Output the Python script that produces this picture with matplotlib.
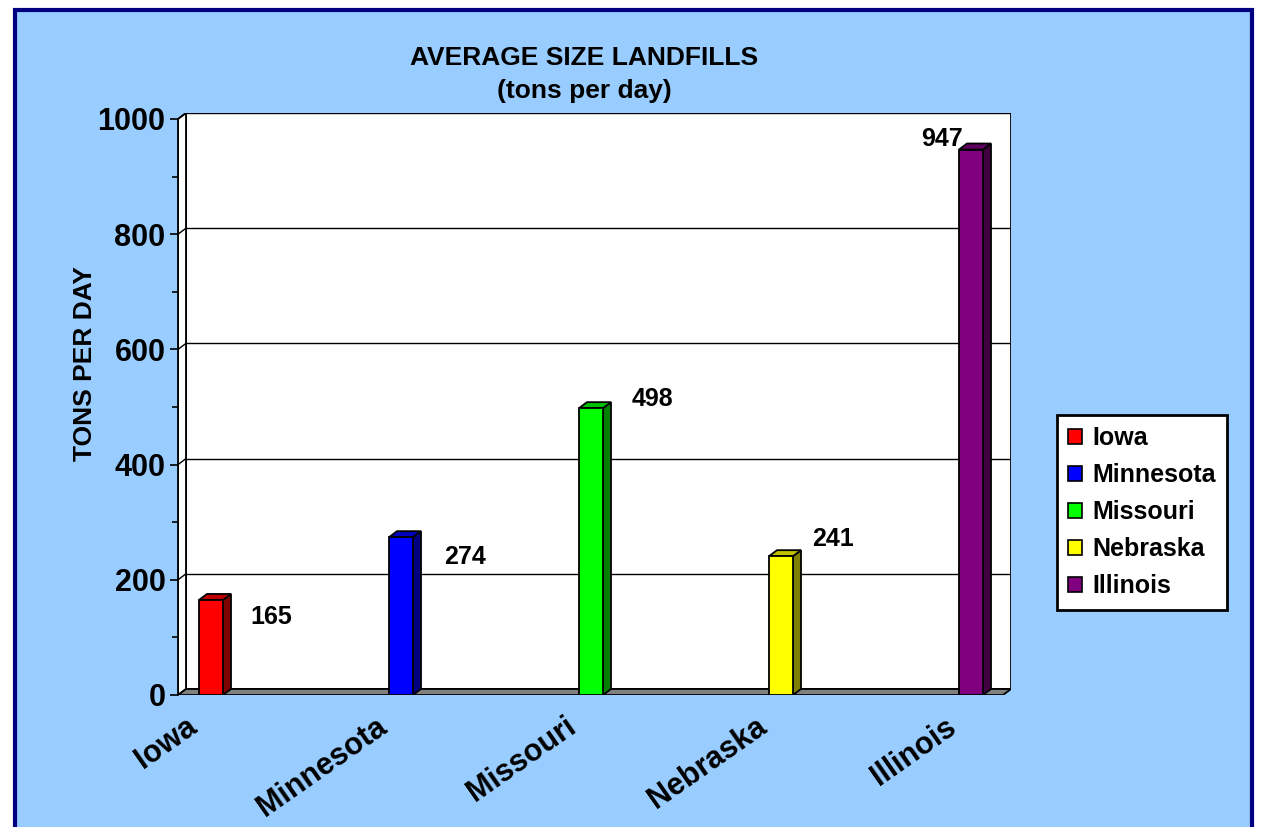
import matplotlib
matplotlib.use("Agg")
import matplotlib.pyplot as plt
from matplotlib.patches import Rectangle, Polygon, Patch
from matplotlib.transforms import ScaledTranslation

plt.rcParams['font.family'] = ['Liberation Sans', 'DejaVu Sans']
plt.rcParams['font.weight'] = 'bold'

# ---- data ----
states = ["Iowa", "Minnesota", "Missouri", "Nebraska", "Illinois"]
tons_per_day = [165, 274, 498, 241, 947]
front_colors = ["#FF0000", "#0000FF", "#00FF00", "#FFFF00", "#800080"]
side_colors = ["#800000", "#000080", "#008000", "#808000", "#400040"]
top_colors = ["#C00000", "#0000C0", "#00C000", "#C0C000", "#600060"]
y_ticks = [0, 200, 400, 600, 800, 1000]
# label offsets from the bar top (pixels)
label_offsets = [(60, -17), (64, -20), (61, 9), (52, 17), (-29, 11)]

W, H = 1262, 827
fig = plt.figure(figsize=(W / 100, H / 100), dpi=100)
fig.patch.set_facecolor("white")

# chart area with navy frame
fig.patches.append(Rectangle((15 / W, -0.05), (1252 - 15) / W, 1.05 - 9.5 / H,
                             transform=fig.transFigure, facecolor="#99CCFF",
                             edgecolor="#000080", linewidth=3.0, zorder=-5))

# axes covers the front plane plus the depth of the walls
px_left, px_right, px_top, px_bottom = 178, 1011, 113, 695
ax = fig.add_axes([px_left / W, 1 - px_bottom / H,
                   (px_right - px_left) / W, (px_bottom - px_top) / H])
ax.patch.set_visible(False)
ax.set_zorder(2)

unit = 190.0                      # pixels per category step
x0 = (178 - 211) / unit           # front-left of floor
x1 = (1011 - 211) / unit          # back-right of wall
dx = 8 / unit                     # depth offset in x
dy = 6 / 0.576                    # depth offset in y (data units)
ymax = 1000
ax.set_xlim(x0, x1)
ax.set_ylim(0, ymax + dy)

lw = 1.3
# back wall
ax.add_patch(Rectangle((x0 + dx, dy), x1 - x0 - dx, ymax, facecolor="white",
                       edgecolor="black", linewidth=lw, zorder=1))
# side wall
ax.add_patch(Polygon([(x0, 0), (x0 + dx, dy), (x0 + dx, ymax + dy), (x0, ymax)],
                     closed=True, facecolor="white", edgecolor="black",
                     linewidth=lw, zorder=1))
# floor
ax.add_patch(Polygon([(x0, 0), (x1 - dx, 0), (x1, dy), (x0 + dx, dy)],
                     closed=True, facecolor="#808080", edgecolor="black",
                     linewidth=lw, zorder=2))
# gridlines on the walls
for v in y_ticks[1:]:
    ax.plot([x0 + dx, x1], [v + dy, v + dy], color="black", linewidth=1.0, zorder=1.5)
    ax.plot([x0, x0 + dx], [v, v + dy], color="black", linewidth=1.0, zorder=1.5)

# bars with side and top faces
bw = 24 / unit
for i, (v, fc, sc, tc) in enumerate(zip(tons_per_day, front_colors, side_colors, top_colors)):
    l, r = i - bw / 2, i + bw / 2
    ax.add_patch(Polygon([(r, 0), (r + dx, dy), (r + dx, v + dy), (r, v)], closed=True,
                         facecolor=sc, edgecolor="black", linewidth=lw, zorder=3))
    ax.add_patch(Polygon([(l, v), (r, v), (r + dx, v + dy), (l + dx, v + dy)], closed=True,
                         facecolor=tc, edgecolor="black", linewidth=lw, zorder=3))
    ax.bar(i, v, width=bw, color=fc, edgecolor="black", linewidth=lw, zorder=4)
    ox, oy = label_offsets[i]
    ax.annotate(str(v), xy=(i, v), xytext=(ox, oy), textcoords="offset pixels",
                ha="center", va="center", fontsize=18, fontweight="bold", zorder=5)

# axes lines and ticks
for s in ["top", "right", "bottom"]:
    ax.spines[s].set_visible(False)
ax.spines["left"].set_bounds(0, ymax)
ax.spines["left"].set_linewidth(lw)
ax.set_yticks(y_ticks)
ax.set_yticks(range(100, 1000, 200), minor=True)
ax.tick_params(axis="y", which="major", direction="out", length=6, width=1.2,
               labelsize=22, pad=3)
ax.tick_params(axis="y", which="minor", direction="out", length=4.3, width=1.2)
for t in ax.get_yticklabels():
    t.set_fontweight("bold")

ax.set_xticks(range(len(states)))
ax.set_xticklabels(states, rotation=35, ha="right", va="top",
                   rotation_mode="anchor", fontsize=22, fontweight="bold")
ax.tick_params(axis="x", length=0, pad=12)
shift = ScaledTranslation(-26 / 100, 0, fig.dpi_scale_trans)
for t in ax.get_xticklabels():
    t.set_transform(t.get_transform() + shift)

ax.set_ylabel("TONS PER DAY", fontsize=19, fontweight="bold", labelpad=0)
ax.yaxis.set_label_coords((97 - px_left) / (px_right - px_left), 0.57)

fig.text(584 / W, 1 - 58 / H, "AVERAGE SIZE LANDFILLS", ha="center", va="center",
         fontsize=19, fontweight="bold")
fig.text(584 / W, 1 - 91 / H, "(tons per day)", ha="center", va="center",
         fontsize=19, fontweight="bold")

# legend
handles = [Patch(facecolor=c, edgecolor="black", linewidth=1.2) for c in front_colors]
leg = fig.legend(handles, states, loc="upper left",
                 bbox_to_anchor=(1057 / W, 1 - 415 / H), bbox_transform=fig.transFigure,
                 prop={"weight": "bold", "size": 18},
                 frameon=True, fancybox=False, framealpha=1, borderpad=0.45,
                 labelspacing=0.52, handlelength=0.55, handleheight=0.55,
                 handletextpad=0.4, borderaxespad=0)
leg.get_frame().set_edgecolor("black")
leg.get_frame().set_linewidth(2)
leg.get_frame().set_facecolor("white")

fig.savefig("out.png", dpi=100)
